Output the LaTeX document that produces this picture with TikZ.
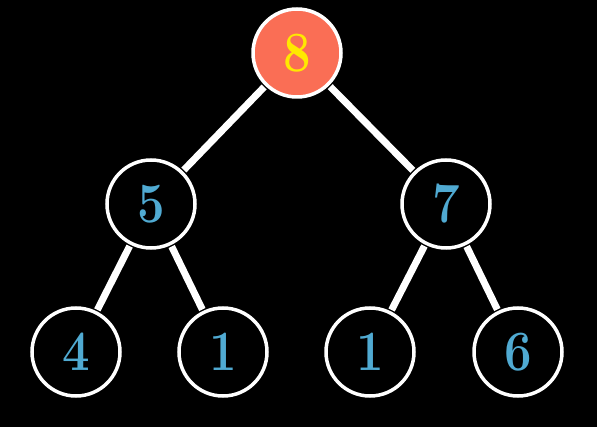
\documentclass[tikz,border=0pt]{standalone}
\usepackage{xcolor}
\usepackage{graphicx}
\definecolor{rootfill}{RGB}{250,110,85}
\definecolor{rootdigit}{RGB}{255,232,0}
\definecolor{digitblue}{RGB}{80,170,210}
\newcommand{\heapdigit}[1]{\scalebox{0.86}[1]{#1}}
\begin{document}
\begin{tikzpicture}[x=1pt,y=-1pt,
  heapnode/.style={circle,draw=white,line width=3.5pt,minimum size=88pt,inner sep=0pt,fill=black,text=digitblue,font=\fontsize{57}{57}\selectfont\bfseries},
  rootnode/.style={heapnode,fill=rootfill,text=rootdigit},
  edge/.style={draw=white,line width=7pt,shorten <=1.5pt,shorten >=1.5pt}]
\fill[black] (0,0) rectangle (597,427);
\useasboundingbox (0,0) rectangle (597,427);
\node[rootnode] (r) at (297,53) {\heapdigit{8}};
\node[heapnode] (a) at (151,204) {\heapdigit{5}};
\node[heapnode] (b) at (446,204) {\heapdigit{7}};
\node[heapnode] (a1) at (76,352) {\heapdigit{4}};
\node[heapnode] (a2) at (223,352) {\heapdigit{1}};
\node[heapnode] (b1) at (370,352) {\heapdigit{1}};
\node[heapnode] (b2) at (518,352) {\heapdigit{6}};
\draw[edge] (r) -- (a);
\draw[edge] (r) -- (b);
\draw[edge] (a) -- (a1);
\draw[edge] (a) -- (a2);
\draw[edge] (b) -- (b1);
\draw[edge] (b) -- (b2);
\end{tikzpicture}
\end{document}
